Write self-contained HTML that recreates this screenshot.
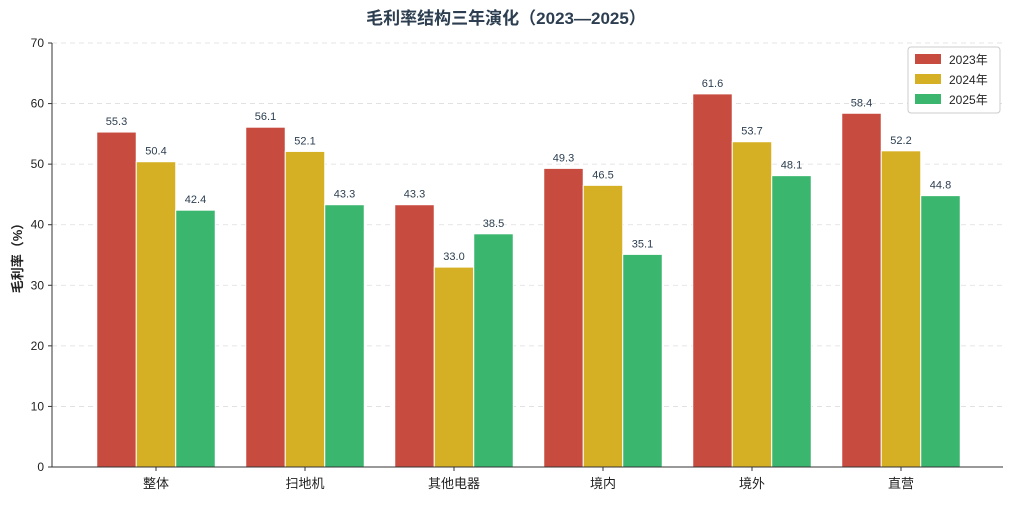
<!DOCTYPE html>
<html><head><meta charset="utf-8"><style>
body{margin:0;background:#fff;font-family:"Liberation Sans","Noto Sans CJK SC",sans-serif}
svg text{font-family:"Liberation Sans","Noto Sans CJK SC",sans-serif}
</style></head><body>
<svg id="c" width="1013" height="500"></svg>
<script>
const categories=["整体","扫地机","其他电器","境内","境外","直营"];
const seriesNames=["2023年","2024年","2025年"];
const s2023=[55.3,56.1,43.3,49.3,61.6,58.4];
const s2024=[50.4,52.1,33.0,46.5,53.7,52.2];
const s2025=[42.4,43.3,38.5,35.1,48.1,44.8];
const yTicks=[0,10,20,30,40,50,60,70];
const colors=["#c84b3f","#d6b024","#3bb66f"];
const svg=document.getElementById('c');
const NS='http://www.w3.org/2000/svg';
function mk(t,a,p){const e=document.createElementNS(NS,t);for(const k in a)e.setAttribute(k,a[k]);(p||svg).appendChild(e);return e;}
const L=52,R=1003,T=43,B=467;
const y=v=>B-(v/70)*(B-T);
const xc=i=>156+i*149;
const bw=39.5;
let t=mk('text',{x:506,y:24,'text-anchor':'middle','font-size':17,'font-weight':'bold',fill:'#2c3e50'});t.textContent='毛利率结构三年演化（2023—2025）';

yTicks.forEach(v=>{
 if(v>0){const g=mk('line',{x1:L,x2:R,y1:y(v),y2:y(v),stroke:'#ddd','stroke-dasharray':'5,4','stroke-width':0.8});}
 mk('line',{x1:L-4,x2:L,y1:y(v),y2:y(v),stroke:'#333'});
 const tx=mk('text',{x:L-8,y:y(v)+4,'text-anchor':'end','font-size':12,fill:'#222'});tx.textContent=v;
 
});
const yl=mk('text',{transform:'translate(22,255) rotate(-90)','text-anchor':'middle','font-size':13,'font-weight':'bold',fill:'#222'});yl.textContent='毛利率（%）';

const series=[s2023,s2024,s2025];
categories.forEach((c,i)=>{
 series.forEach((s,j)=>{
  const x0=xc(i)+(j-1)*bw-bw/2;
  const r=mk('rect',{x:x0,y:y(s[i]),width:bw,height:B-y(s[i]),fill:colors[j],stroke:'#fff','stroke-width':1});
  
  const lb=mk('text',{x:x0+bw/2,y:y(s[i])-7,'text-anchor':'middle','font-size':11,fill:'#2c3e50'});lb.textContent=s[i].toFixed(1);
  
 });
 mk('line',{x1:xc(i),x2:xc(i),y1:B,y2:B+4,stroke:'#333'});
 const xl=mk('text',{x:xc(i),y:B+21,'text-anchor':'middle','font-size':13,fill:'#222'});xl.textContent=c;
 
});
mk('line',{x1:L,x2:L,y1:T,y2:B,stroke:'#333'});
mk('line',{x1:L,x2:R,y1:B,y2:B,stroke:'#333'});
const lg=mk('rect',{x:908,y:47,width:92,height:66,fill:'#fff',stroke:'#ccc',rx:3});

seriesNames.forEach((n,j)=>{
 const yy=59+j*20;
 const sw=mk('rect',{x:915,y:yy-5,width:26,height:10,fill:colors[j]});
 
 const lt=mk('text',{x:949,y:yy+5,'font-size':12,fill:'#222'});lt.textContent=n;
 
});
</script>
</body></html>
